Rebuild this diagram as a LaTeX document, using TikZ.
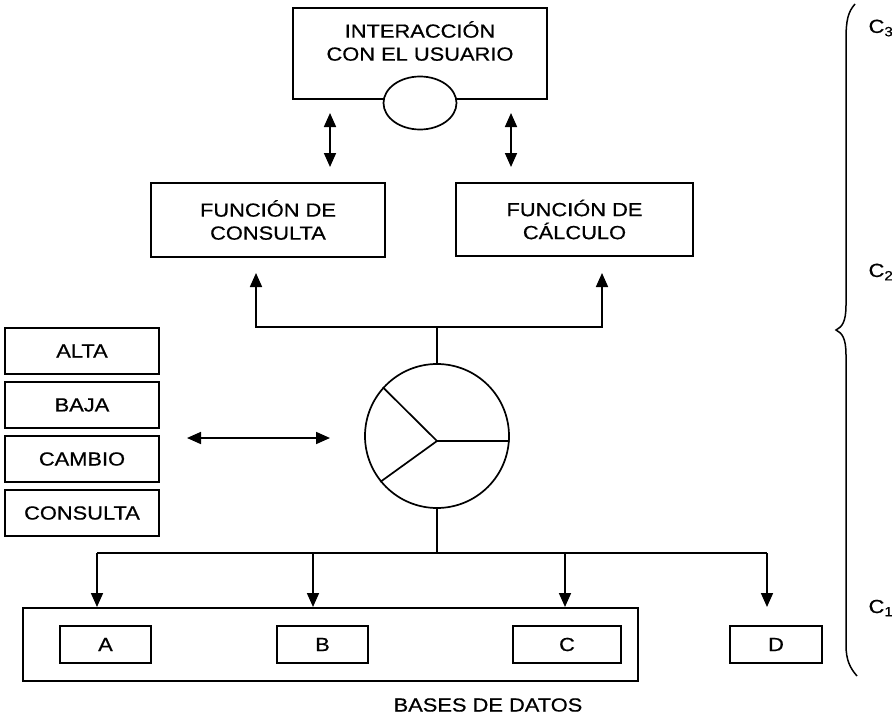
\documentclass[tikz,border=0pt]{standalone}
\usepackage{fontspec}
\setmainfont{Liberation Sans}[FakeStretch=1.15,FakeBold=0.6]
\usetikzlibrary{arrows.meta,shapes.geometric}
\tikzset{
  box/.style={draw, line width=2pt, align=center, inner sep=0pt},
  opbox/.style={box, minimum width=154pt, minimum height=46pt},
  dbbox/.style={box, minimum height=37pt},
  arr/.style={-{Triangle[length=14pt,width=12pt]}, line width=1.7pt},
  dbl/.style={{Triangle[length=14pt,width=12pt]}-{Triangle[length=14pt,width=12pt]}, line width=1.7pt},
  wire/.style={line width=1.7pt},
  lbl/.style={inner sep=0pt, align=center},
}

\begin{document}
\begin{tikzpicture}[x=1pt,y=-1pt,font=\fontsize{19}{23}\selectfont]
  \useasboundingbox (0,0) rectangle (892,717);
  % capa de usuario
  \node[box, minimum width=254pt, minimum height=91pt] (usr) at (420,53.5) {};
  \node[lbl] (usrtxt) at (420,41) {INTERACCIÓN\\CON EL USUARIO};
  \node[draw, ellipse, line width=1.7pt, fill=white, minimum width=73pt, minimum height=53pt] (ojo) at (420,103) {};
  \coordinate (u1) at (330,113); \coordinate (u2) at (330,167);
  \coordinate (u3) at (511,113); \coordinate (u4) at (511,167);
  \draw[dbl] (u1) -- (u2);
  \draw[dbl] (u3) -- (u4);
  % funciones
  \node[box, minimum width=234pt, minimum height=74pt] (fcon) at (268,220) {FUNCIÓN DE\\CONSULTA};
  \node[box, minimum width=237pt, minimum height=73pt] (fcal) at (574.5,219.5) {FUNCIÓN DE\\CÁLCULO};
  % nucleo
  \node[draw, circle, line width=1.7pt, minimum size=144pt] (hub) at (437,436) {};
  \coordinate (hc) at (437,441);
  \draw[wire] (hc) -- (hub.-4);
  \draw[wire] (hc) -- (hub.138);
  \draw[wire] (hc) -- (hub.219);
  \coordinate (j1) at (437,327);
  \coordinate (a1) at (256,273); \coordinate (a2) at (602,273);
  \draw[wire] (hub.north) -- (j1);
  \draw[arr] (j1) -| (a1);
  \draw[arr] (j1) -| (a2);
  % operaciones
  \foreach \t [count=\i] in {ALTA,BAJA,CAMBIO,CONSULTA}
    \node[opbox] (op\i) at (82,{351+54*(\i-1)}) {\t};
  \coordinate (h1) at (187,438); \coordinate (h2) at (330,438);
  \draw[dbl] (h1) -- (h2);
  % bases de datos
  \node[box, minimum width=615pt, minimum height=73pt] (bd) at (330.5,644.5) {};
  \node[dbbox, minimum width=91pt] (dba) at (105.5,644.5) {A};
  \node[dbbox, minimum width=91pt] (dbb) at (322.5,644.5) {B};
  \node[dbbox, minimum width=108pt] (dbc) at (567,644.5) {C};
  \node[dbbox, minimum width=92pt] (dbd) at (776,644.5) {D};
  \node[lbl] (bdtxt) at (488,705) {BASES DE DATOS};
  \coordinate (j2) at (437,553);
  \coordinate (ta) at (97,553); \coordinate (tb) at (313,553);
  \coordinate (tc) at (565,553); \coordinate (td) at (767,553);
  \coordinate (td2) at (767,607);
  \draw[wire] (hub.south) -- (j2);
  \draw[wire] (ta) -- (td);
  \draw[arr] (ta) -- (ta |- bd.north);
  \draw[arr] (tb) -- (tb |- bd.north);
  \draw[arr] (tc) -- (tc |- bd.north);
  \draw[arr] (td) -- (td2);
  % llave y capas
  \draw[line width=1.5pt] (855,4) .. controls (848,12) and (846,20) .. (846,40)
    -- (846,305) .. controls (846,322) and (842,327) .. (836,330)
    .. controls (842,333) and (846,338) .. (846,355)
    -- (846,645) .. controls (846,660) and (850,668) .. (857,676);
  \node[lbl] (c3) at (881,28) {C\textsubscript{3}};
  \node[lbl] (c2) at (881,272) {C\textsubscript{2}};
  \node[lbl] (c1) at (881,608) {C\textsubscript{1}};
\end{tikzpicture}
\end{document}
